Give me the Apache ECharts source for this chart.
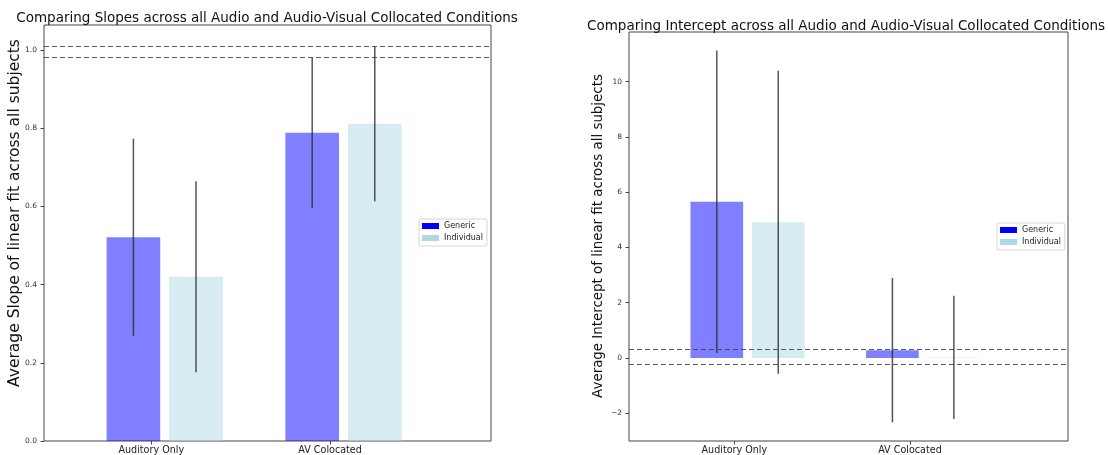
<!DOCTYPE html>
<html>
<head>
<meta charset="utf-8">
<script src="https://cdn.jsdelivr.net/npm/echarts@6/dist/echarts.min.js"></script>
<style>
  html, body { margin: 0; padding: 0; background: #fff; }
  #chart { width: 1108px; height: 455px; }
</style>
</head>
<body>
<div id="chart"></div>
<script>
// ---- data ----
const categories = ['Auditory Only', 'AV Colocated'];
const seriesNames = ['Generic', 'Individual'];

// slope of the linear fit: mean and error half-width per condition
const slopeGeneric = [0.521, 0.788];
const slopeGenericErr = [0.252, 0.192];
const slopeIndividual = [0.420, 0.811];
const slopeIndividualErr = [0.244, 0.198];
const slopeRefLines = [1.013, 0.981];
const slopeTicks = [0.0, 0.2, 0.4, 0.6, 0.8, 1.0];

// intercept of the linear fit: mean and error half-width per condition
const interceptGeneric = [5.65, 0.28];
const interceptGenericErr = [5.47, 2.61];
const interceptIndividual = [4.91, 0.02];
const interceptIndividualErr = [5.48, 2.23];
const interceptRefLines = [0.33, -0.23];
const interceptTicks = [-2, 0, 2, 4, 6, 8, 10];

const titles = [
  'Comparing Slopes across all Audio and Audio-Visual Collocated Conditions',
  'Comparing Intercept across all Audio and Audio-Visual Collocated Conditions'
];
const yNames = [
  'Average Slope of linear fit across all subjects',
  'Average Intercept of linear fit across all subjects'
];

// ---- layout constants (data units on the x axis) ----
const BAR_W = 0.3;        // bar width
const IND_OFFSET = 0.35;  // individual bar shift from the generic bar
const TICK_SHIFT = 0.1;   // category tick shift from the generic bar
const X_MIN = -0.5, X_MAX = 2.0;

const FONT = 'DejaVu Sans';
const GENERIC_COLOR = '#0000ff';
const INDIVIDUAL_COLOR = '#add8e6';

// y limits with a 5% margin, bars anchored at zero
function yLimits(vals, errs, refs) {
  const lows = [], highs = [];
  for (let s = 0; s < vals.length; s++) {
    vals[s].forEach((v, i) => { lows.push(v - errs[s][i]); highs.push(v + errs[s][i]); });
  }
  refs.forEach(r => { lows.push(r); highs.push(r); });
  let lo = Math.min(...lows), hi = Math.max(...highs);
  const sticky = lo >= 0;
  if (sticky) lo = 0;
  const pad = (hi - lo) * 0.05;
  return [sticky ? 0 : lo - pad, hi + pad];
}

const slopeLim = yLimits([slopeGeneric, slopeIndividual], [slopeGenericErr, slopeIndividualErr], slopeRefLines);
const interceptLim = yLimits([interceptGeneric, interceptIndividual], [interceptGenericErr, interceptIndividualErr], interceptRefLines);

function barSeries(name, g, values, errs, offset, color, refLines) {
  const s = {
    type: 'custom',
    name: name,
    xAxisIndex: g,
    yAxisIndex: g,
    itemStyle: { color: color },
    encode: { x: 0, y: 1 },
    data: values.map((v, i) => [i, v, errs[i]]),
    renderItem: function (params, api) {
      const x = api.value(0) + offset;
      const v = api.value(1);
      const e = api.value(2);
      const a = api.coord([x - BAR_W / 2, v]);
      const b = api.coord([x + BAR_W / 2, 0]);
      const top = api.coord([x, v + e]);
      const bot = api.coord([x, v - e]);
      return {
        type: 'group',
        children: [
          {
            type: 'rect',
            shape: { x: a[0], y: Math.min(a[1], b[1]), width: b[0] - a[0], height: Math.abs(b[1] - a[1]) },
            style: { fill: color, opacity: 0.5 }
          },
          {
            type: 'line',
            shape: { x1: top[0], y1: top[1], x2: bot[0], y2: bot[1] },
            style: { stroke: '#2b2b2b', lineWidth: 1.5, opacity: 0.8 }
          }
        ]
      };
    }
  };
  if (refLines) {
    s.markLine = {
      silent: true,
      symbol: 'none',
      label: { show: false },
      lineStyle: { type: [5, 3], color: '#404040', width: 1, opacity: 0.85 },
      data: refLines.map(y => ({ yAxis: y }))
    };
  }
  return s;
}

const tickVals = categories.map((_, i) => i + TICK_SHIFT);

function xAxis(g) {
  return {
    gridIndex: g,
    type: 'value',
    min: X_MIN,
    max: X_MAX,
    axisLine: { show: false, onZero: false },
    splitLine: { show: false },
    axisTick: { show: true, length: 3.5, lineStyle: { color: '#444' }, customValues: tickVals },
    axisLabel: {
      customValues: tickVals,
      formatter: v => categories[Math.round(v - TICK_SHIFT)],
      fontFamily: FONT, fontSize: 9.6, color: '#222', margin: 4
    }
  };
}

function yAxis(g, lim, ticks, fmt) {
  return {
    gridIndex: g,
    type: 'value',
    min: lim[0],
    max: lim[1],
    axisLine: { show: false, onZero: false },
    splitLine: { show: false },
    axisTick: { show: true, length: 3.5, lineStyle: { color: '#444' }, customValues: ticks },
    axisLabel: { customValues: ticks, formatter: fmt, fontFamily: FONT, fontSize: 7.5, color: '#333', margin: 7 }
  };
}

function legend(left, top) {
  return {
    left: left, top: top,
    orient: 'vertical',
    data: [
      { name: seriesNames[0], itemStyle: { color: GENERIC_COLOR, opacity: 1 } },
      { name: seriesNames[1], itemStyle: { color: INDIVIDUAL_COLOR, opacity: 1 } }
    ],
    icon: 'rect',
    itemWidth: 17, itemHeight: 6, itemGap: 2,
    padding: [2, 4, 3, 3],
    borderColor: '#d4d4d4', borderWidth: 1, borderRadius: 2,
    backgroundColor: '#fff',
    selectedMode: false,
    textStyle: { fontFamily: FONT, fontSize: 8, color: '#222', lineHeight: 10 }
  };
}

function yName(text, x, y, size) {
  return {
    type: 'text',
    x: x, y: y,
    rotation: Math.PI / 2,
    style: {
      text: text, fill: '#111',
      font: size + 'px "' + FONT + '"',
      align: 'center', verticalAlign: 'middle',
      textAlign: 'center', textVerticalAlign: 'middle'
    }
  };
}

const titleStyle = { fontFamily: FONT, fontSize: 13.5, fontWeight: 'normal', color: '#111' };

const chart = echarts.init(document.getElementById('chart'), null, { renderer: 'canvas' });
chart.setOption({
  animation: false,
  backgroundColor: '#fff',
  title: [
    { text: titles[0], left: 262, top: 6, textAlign: 'center', textStyle: titleStyle },
    { text: titles[1], left: 841, top: 14, textAlign: 'center', textStyle: titleStyle }
  ],
  grid: [
    { left: 44, top: 25, width: 447, height: 416, show: true, borderColor: '#444', borderWidth: 1, backgroundColor: 'transparent' },
    { left: 629, top: 32, width: 439, height: 409, show: true, borderColor: '#444', borderWidth: 1, backgroundColor: 'transparent' }
  ],
  legend: [legend(419, 219), legend(997, 223)],
  xAxis: [xAxis(0), xAxis(1)],
  yAxis: [
    yAxis(0, slopeLim, slopeTicks, v => v.toFixed(1)),
    yAxis(1, interceptLim, interceptTicks, v => (v < 0 ? '\u2212' + Math.abs(v) : String(v)))
  ],
  graphic: [
    yName(yNames[0], 15, 213, 15.5),
    yName(yNames[1], 599, 236, 13.4)
  ],
  series: [
    barSeries(seriesNames[0], 0, slopeGeneric, slopeGenericErr, 0, GENERIC_COLOR, slopeRefLines),
    barSeries(seriesNames[1], 0, slopeIndividual, slopeIndividualErr, IND_OFFSET, INDIVIDUAL_COLOR, null),
    barSeries(seriesNames[0], 1, interceptGeneric, interceptGenericErr, 0, GENERIC_COLOR, interceptRefLines),
    barSeries(seriesNames[1], 1, interceptIndividual, interceptIndividualErr, IND_OFFSET, INDIVIDUAL_COLOR, null)
  ]
});
</script>
</body>
</html>
